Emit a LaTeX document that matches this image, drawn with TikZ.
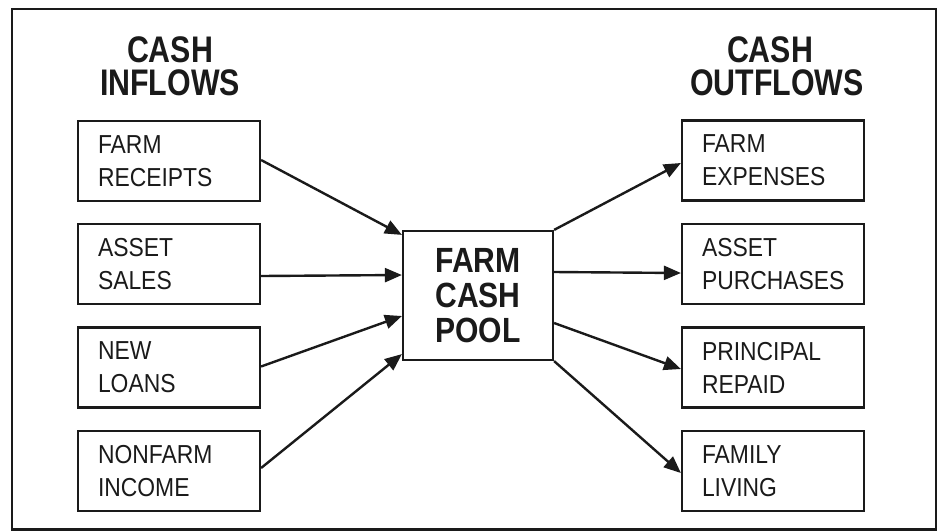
\documentclass[tikz,border=0pt]{standalone}
\usepackage{fontspec}
\setmainfont{Liberation Sans}
\newfontfamily\bodyfont{Liberation Sans}[FakeStretch=0.88]
\newfontfamily\headfont{Liberation Sans}[FakeStretch=0.82]
\newfontfamily\poolfont{Liberation Sans}[FakeStretch=0.86]
\usetikzlibrary{arrows.meta}
\definecolor{ink}{HTML}{1A1A1A}
\tikzset{
  itembox/.style={draw=ink, line width=2.2pt, text=ink, minimum width=182pt, minimum height=80pt,
    text width=142pt, inner xsep=20pt, inner ysep=0pt, align=left,
    font=\bodyfont\fontsize{26}{33}\selectfont},
  headtext/.style={text=ink, inner sep=0pt, anchor=base,
    font=\headfont\bfseries\fontsize{37}{37}\selectfont},
  poolbox/.style={draw=ink, line width=2.2pt, text=ink, minimum width=150pt, minimum height=129pt,
    inner sep=0pt, align=center, font=\poolfont\bfseries\fontsize{35}{35}\selectfont},
  flow/.style={draw=ink, line width=2.4pt, -{Triangle[length=17pt,width=14pt]}}
}
\begin{document}
\begin{tikzpicture}[x=1pt,y=-1pt]
\useasboundingbox (0,0) rectangle (942,531);
\draw[ink, line width=2.4pt] (12,9) rectangle (936,529.5);
\node[headtext] (hin1) at (170,62) {CASH};
\node[headtext] (hin2) at (170,95) {INFLOWS};
\node[headtext] (hout1) at (770,62) {CASH};
\node[headtext] (hout2) at (777,95) {OUTFLOWS};
\node[itembox] (fr) at (169,161) {FARM\\RECEIPTS};
\node[itembox] (as) at (169,264) {ASSET\\SALES};
\node[itembox] (nl) at (169,367.5) {NEW\\LOANS};
\node[itembox] (ni) at (169,471) {NONFARM\\INCOME};
\node[itembox] (fe) at (773,160.5) {FARM\\EXPENSES};
\node[itembox] (ap) at (773,264) {ASSET\\PURCHASES};
\node[itembox] (pr) at (773,367.5) {PRINCIPAL\\REPAID};
\node[itembox] (fl) at (773,471) {FAMILY\\LIVING};
\node[poolbox] (pool) at (478,295.5) {FARM\\CASH\\POOL};
\draw[flow] ([yshift=1pt]fr.east) -- ([yshift=-5pt]pool.north west);
\draw[flow] ([yshift=-12pt]as.east) -- ([yshift=20.5pt]pool.west);
\draw[flow] ([yshift=1pt]nl.east) -- ([yshift=-20.5pt]pool.west);
\draw[flow] ([yshift=3pt]ni.east) -- ([yshift=7pt]pool.south west);
\draw[flow] (pool.north east) -- ([yshift=-2.5pt]fe.west);
\draw[flow] ([yshift=23.5pt]pool.east) -- ([yshift=-9pt]ap.west);
\draw[flow] ([yshift=-27.5pt]pool.east) -- ([yshift=-1.5pt]pr.west);
\draw[flow] (pool.south east) -- ([yshift=-2pt]fl.west);
\end{tikzpicture}
\end{document}
